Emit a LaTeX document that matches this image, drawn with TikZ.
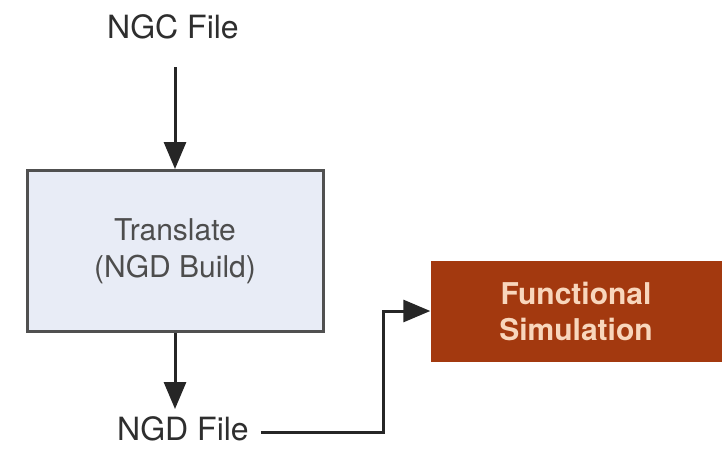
\documentclass[tikz,border=0pt]{standalone}
\usepackage{fontspec}
\setmainfont{TeX Gyre Heros}
\usetikzlibrary{arrows.meta}
\definecolor{boxfill}{HTML}{E8ECF6}
\definecolor{boxline}{HTML}{505050}
\definecolor{simfill}{HTML}{A3390F}
\definecolor{simtext}{HTML}{F8D6BC}
\definecolor{txt}{HTML}{2E2E2E}
\begin{document}
\begin{tikzpicture}[x=1pt,y=-1pt,
  lbl/.style={font=\fontsize{32}{38}\selectfont, text=txt, inner sep=0pt},
  procbox/.style={draw=boxline, line width=3pt, fill=boxfill, minimum width=296pt, minimum height=161pt, align=center, font=\fontsize{30}{37}\selectfont, text=txt!85},
  simbox/.style={fill=simfill, minimum width=291pt, minimum height=101pt, align=center, font=\bfseries\fontsize{30}{36}\selectfont, text=simtext},
  conn/.style={line width=3pt, draw=black!85, -{Triangle[length=27pt,width=22pt]}}]
\useasboundingbox (0,0) rectangle (722,450);
\fill[white] (0,0) rectangle (722,450);
\node[lbl] (ngc) at (173,27) {NGC File};
\node[procbox] (tr) at (175,251) {Translate\\(NGD Build)};
\node[lbl, anchor=west] (ngd) at (117,429) {NGD File};
\node[simbox] (sim) at (576,311) {Functional\\Simulation};
\coordinate (c1) at (175,67);
\coordinate (c2) at (175,409);
\coordinate (bend) at (383,432);
\draw[conn] (c1) -- (tr.north -| c1);
\draw[conn] (tr.south) -- (c2);
\draw[conn] ([xshift=12pt]ngd.east |- bend) -- (bend) |- (sim.west);
\end{tikzpicture}
\end{document}
